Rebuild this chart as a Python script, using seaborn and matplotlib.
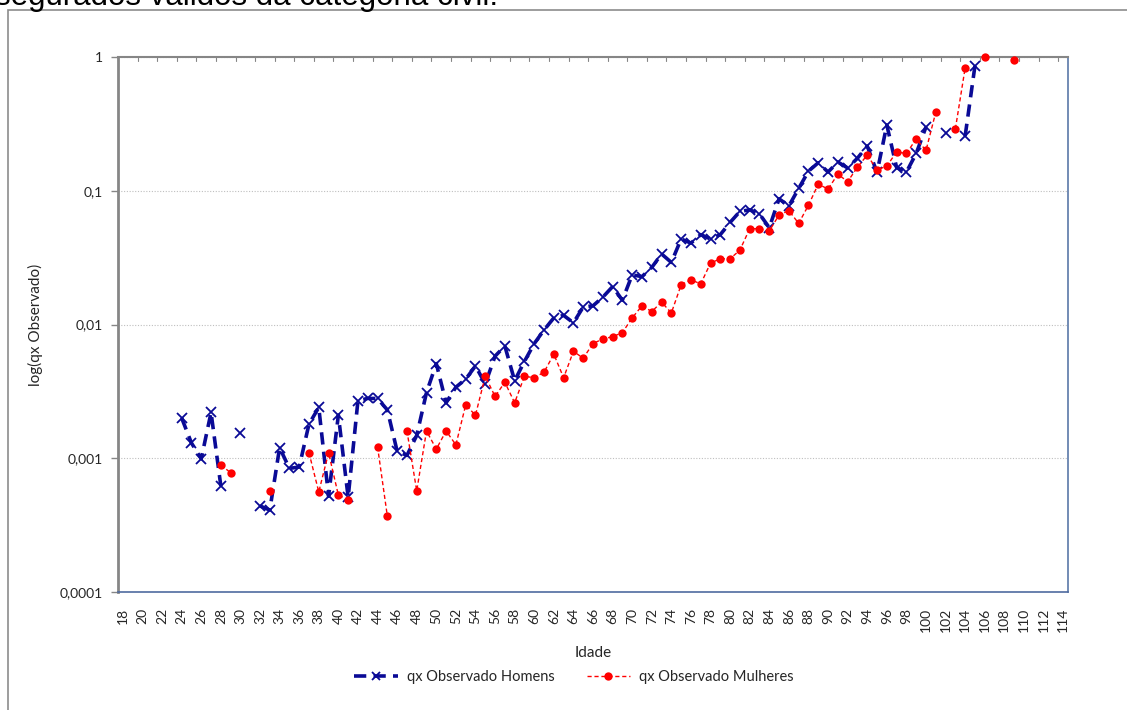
import numpy as np
import pandas as pd
import matplotlib
matplotlib.use("Agg")
import matplotlib.pyplot as plt
from matplotlib.lines import Line2D
from matplotlib.patches import Rectangle
import seaborn as sns

# observed qx, men (missing ages are simply absent)
idade_homens = [24, 25, 26, 27, 28, 30, 32, 33, 34, 35, 36, 37, 38, 39, 40, 41, 42, 43, 44, 45,
                46, 47, 48, 49, 50, 51, 52, 53, 54, 55, 56, 57, 58, 59, 60, 61, 62, 63, 64, 65,
                66, 67, 68, 69, 70, 71, 72, 73, 74, 75, 76, 77, 78, 79, 80, 81, 82, 83, 84, 85,
                86, 87, 88, 89, 90, 91, 92, 93, 94, 95, 96, 97, 98, 99, 100, 102, 104, 105]
qx_homens = [0.0020, 0.0013, 0.00099, 0.0022, 0.00062, 0.00155, 0.00044, 0.00041, 0.0012, 0.00084,
             0.00086, 0.0018, 0.0024, 0.00052, 0.0021, 0.00051, 0.0027, 0.0028, 0.0028, 0.0023,
             0.00113, 0.00105, 0.00148, 0.0031, 0.0051, 0.0026, 0.0034, 0.0039, 0.0049, 0.0036,
             0.0058, 0.0069, 0.0038, 0.0053, 0.0072, 0.0091, 0.0112, 0.0117, 0.0103, 0.0135,
             0.0138, 0.0160, 0.0192, 0.0152, 0.0235, 0.0228, 0.0267, 0.0337, 0.0291, 0.0436,
             0.0406, 0.047, 0.0436, 0.047, 0.058, 0.070, 0.072, 0.067, 0.053, 0.087,
             0.077, 0.104, 0.14, 0.162, 0.138, 0.164, 0.148, 0.175, 0.216, 0.137,
             0.31, 0.149, 0.138, 0.19, 0.30, 0.27, 0.257, 0.86]

# observed qx, women
idade_mulheres = [28, 29, 33, 37, 38, 39, 40, 41, 44, 45, 47, 48, 49, 50, 51, 52, 53, 54, 55, 56,
                  57, 58, 59, 60, 61, 62, 63, 64, 65, 66, 67, 68, 69, 70, 71, 72, 73, 74, 75, 76,
                  77, 78, 79, 80, 81, 82, 83, 84, 85, 86, 87, 88, 89, 90, 91, 92, 93, 94, 95, 96,
                  97, 98, 99, 100, 101, 103, 104, 106, 109]
qx_mulheres = [0.00089, 0.00078, 0.00057, 0.0011, 0.00056, 0.0011, 0.00053, 0.00049, 0.00122, 0.00037,
               0.00161, 0.00057, 0.0016, 0.00117, 0.0016, 0.00126, 0.0025, 0.0021, 0.0041, 0.0029,
               0.0037, 0.0026, 0.0041, 0.0040, 0.0044, 0.0060, 0.0040, 0.0063, 0.0056, 0.0072,
               0.0078, 0.0081, 0.0087, 0.0112, 0.0138, 0.0125, 0.0147, 0.0122, 0.0198, 0.0216,
               0.0201, 0.0288, 0.031, 0.031, 0.036, 0.052, 0.052, 0.050, 0.066, 0.071,
               0.057, 0.078, 0.112, 0.103, 0.133, 0.117, 0.150, 0.185, 0.143, 0.153,
               0.195, 0.19, 0.244, 0.20, 0.387, 0.29, 0.83, 1.0, 0.95]

idade_ticks = list(range(18, 115, 2))
y_ticks = [0.0001, 0.001, 0.01, 0.1, 1]
y_ticklabels = ["0,0001", "0,001", "0,01", "0,1", "1"]


def segmentos(idades, valores):
    # break the line wherever an age is missing
    df = pd.DataFrame({"idade": idades, "qx": valores})
    df["seg"] = (df["idade"].diff() != 1).cumsum()
    return df


df_h = segmentos(idade_homens, qx_homens)
df_m = segmentos(idade_mulheres, qx_mulheres)

sns.set_style("white")
plt.rcParams["font.family"] = ["Lato", "DejaVu Sans"]

fig = plt.figure(figsize=(11.27, 7.10), dpi=100)
ax = fig.add_axes([118 / 1127, 1 - 592 / 710, 950 / 1127, 535 / 710])

# outer chart border and the clipped caption above it
fig.patches.append(Rectangle((8 / 1127, -0.05), 1.1, 1 - 10 / 710 + 0.05,
                             transform=fig.transFigure, fill=False,
                             edgecolor="#8c8c8c", linewidth=1.2))
fig.text(-0.004, 1 - 5 / 710, "segurados válidos da categoria civil.", fontsize=22.5,
         family="Liberation Sans", ha="left", va="baseline", color="black")

azul = "#0a0a96"
vermelho = "#ff0000"

sns.lineplot(data=df_h, x="idade", y="qx", units="seg", estimator=None, ax=ax,
             color=azul, linewidth=2.6, dashes=False, linestyle=(0, (3.4, 2)),
             marker="x", markersize=6.5, markeredgewidth=1.3, markeredgecolor=azul,
             clip_on=False, zorder=3)
sns.lineplot(data=df_m, x="idade", y="qx", units="seg", estimator=None, ax=ax,
             color=vermelho, linewidth=1.0, dashes=False, linestyle=(0, (3, 2)),
             marker="o", markersize=6, markeredgewidth=0, markerfacecolor=vermelho,
             clip_on=False, zorder=4)

ax.set_yscale("log")
ax.set_ylim(0.0001, 1)
ax.set_xlim(17.5, 114.5)
ax.set_yticks(y_ticks)
ax.set_yticklabels(y_ticklabels, fontsize=10)
ax.minorticks_off()
ax.set_xticks(idade_ticks)
ax.set_xticklabels([str(i) for i in idade_ticks], rotation=90, fontsize=10)
ax.tick_params(axis="x", bottom=False, top=False, pad=8)
ax.tick_params(axis="y", left=True, length=5, width=1, color="#868686", pad=6)

# small tick marks hanging from the top edge, every 2 categories
for t in idade_ticks:
    ax.plot([t - 0.5, t - 0.5], [1, 0.93], color="#868686", linewidth=0.8,
            clip_on=False, zorder=1)

ax.grid(axis="y", which="major", color="#bfbfbf", linestyle=(0, (1, 1.5)), linewidth=0.8)
ax.grid(axis="x", visible=False)

ax.spines["left"].set_color("#868686")
ax.spines["left"].set_linewidth(2)
ax.spines["top"].set_color("#868686")
ax.spines["top"].set_linewidth(1.5)
ax.spines["bottom"].set_color("#4f6ba0")
ax.spines["bottom"].set_linewidth(1.2)
ax.spines["right"].set_color("#5a78a8")
ax.spines["right"].set_linewidth(1.2)

ax.set_xlabel("Idade", fontsize=11, labelpad=10)
ax.set_ylabel("log(qx Observado)", fontsize=11, labelpad=12)

handles = [
    Line2D([], [], color=azul, linewidth=2.6, linestyle=(0, (3.4, 2)), marker="x",
           markersize=6, markeredgewidth=1.3),
    Line2D([], [], color=vermelho, linewidth=1.0, linestyle=(0, (3, 2)), marker="o",
           markersize=6, markeredgewidth=0),
]
fig.legend(handles, ["qx Observado Homens", "qx Observado Mulheres"],
           loc="center", bbox_to_anchor=(574 / 1127, 1 - 677 / 710), ncol=2, frameon=False,
           fontsize=10.5, handlelength=3, handletextpad=0.6, columnspacing=2.2)

fig.savefig("out.png", dpi=100)
